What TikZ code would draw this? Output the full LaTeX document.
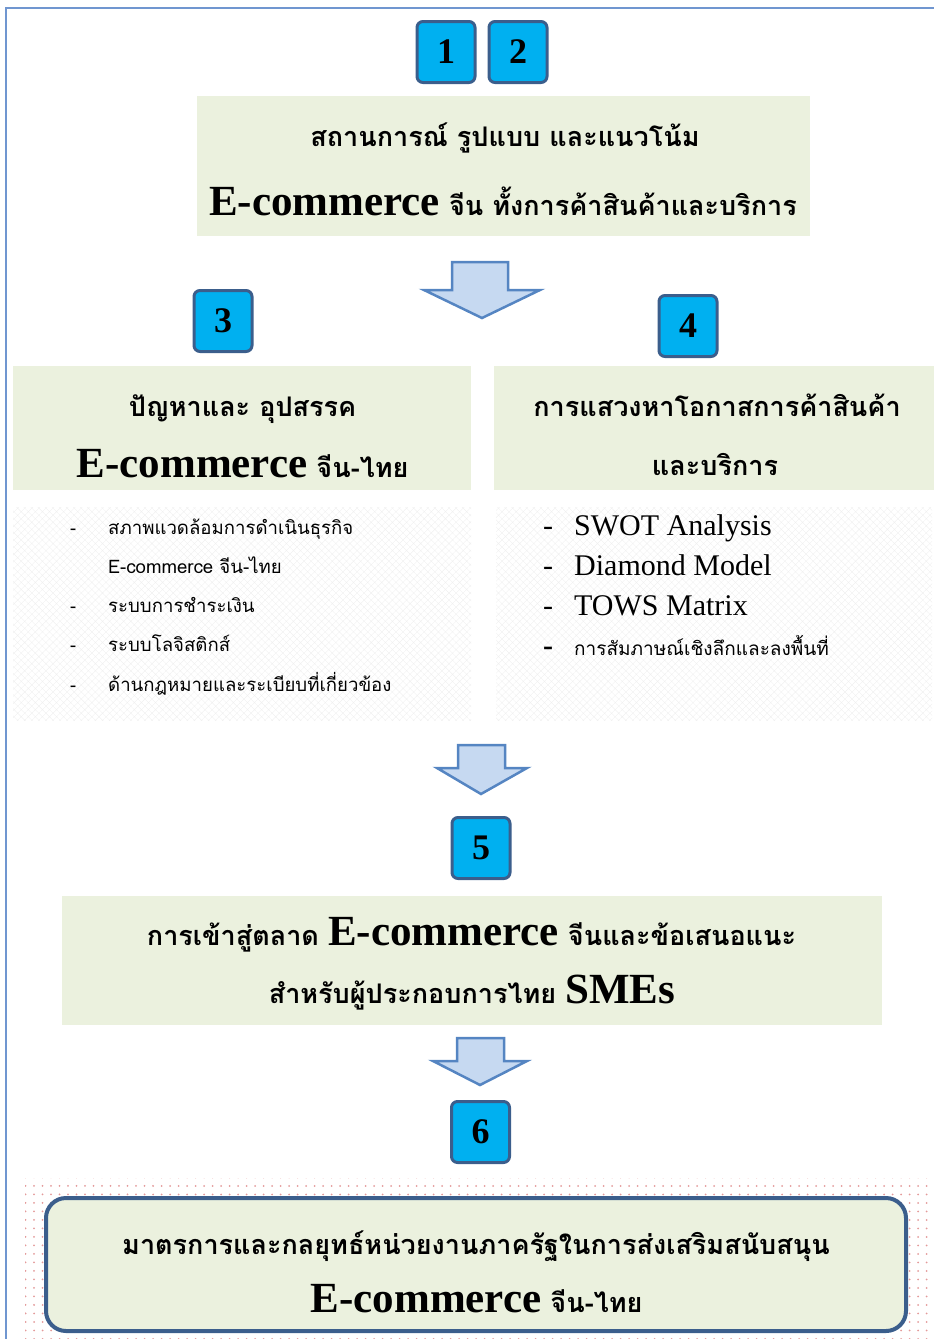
\documentclass[tikz,border=0pt]{standalone}
\usepackage{fontspec}
\usetikzlibrary{patterns.meta}
\newfontfamily\thb[Script=Thai]{Loma}
\newfontfamily\tms{Liberation Serif}
\definecolor{framecol}{HTML}{7096D0}
\definecolor{headfill}{HTML}{EBF1DE}
\definecolor{numfill}{HTML}{00B0F0}
\definecolor{numline}{HTML}{3B5E8C}
\definecolor{arrfill}{HTML}{C6D9F1}
\definecolor{arrline}{HTML}{5585C2}
\definecolor{dotcol}{HTML}{E39A9A}
\tikzset{
  numbox/.style={draw=numline, line width=3pt, fill=numfill, rounded corners=6pt,
    minimum width=58pt, minimum height=61pt, inner sep=0pt,
    font=\tms\bfseries\fontsize{36}{36}\selectfont},
  headbox/.style={fill=headfill, inner sep=0pt},
  listbox/.style={fill=gray!4, pattern={Hatch[angle=45,distance=5pt,line width=0.4pt]},
    pattern color=gray!12, inner sep=0pt},
  headtext/.style={anchor=base, inner sep=0pt, font=\thb\bfseries\fontsize{27}{30}\selectfont},
  ltext/.style={anchor=base west, inner sep=0pt, font=\thb\fontsize{18.6}{20}\selectfont},
  rtext/.style={anchor=base west, inner sep=0pt, font=\tms\fontsize{30}{30}\selectfont},
  rthai/.style={anchor=base west, inner sep=0pt, font=\thb\fontsize{19}{20}\selectfont},
  dashmark/.style={anchor=base, inner sep=0pt},
  blockarrow/.style={draw=arrline, line width=2.5pt, fill=arrfill, line join=miter}
}
\newcommand\ecom[1]{{\tms\fontsize{43}{43}\selectfont #1}}
\begin{document}
\begin{tikzpicture}[x=1pt,y=-1pt]
\useasboundingbox (0,0) rectangle (934,1339);
% page frame
\draw[framecol, line width=2pt] (6,1339) -- (6,8) -- (934,8);

% step numbers 1 and 2
\node[numbox] (n1) at (446,52) {1};
\node[numbox] (n2) at (518,52) {2};

% situation box
\node[headbox, minimum width=613pt, minimum height=140pt] (h1) at (503.5,166) {};
\node[headtext] (h1a) at (505,146) {สถานการณ์ รูปแบบ และแนวโน้ม};
\node[headtext] (h1b) at (503,215) {\ecom{E-commerce} จีน ทั้งการค้าสินค้าและบริการ};

% arrow below the situation box
\draw[blockarrow] (452,262) -- (508,262) -- (508,290) -- (540,290) -- (482,318) -- (424,290) -- (452,290) -- cycle;

% step numbers 3 and 4
\node[numbox] (n3) at (223,321) {3};
\node[numbox] (n4) at (688,326) {4};

% problems box
\node[headbox, minimum width=458pt, minimum height=124pt] (h3) at (242,428) {};
\node[headtext] (h3a) at (242.5,416) {ปัญหาและ อุปสรรค};
\node[headtext] (h3b) at (242.5,477) {\ecom{E-commerce} จีน-ไทย};

% opportunities box
\node[headbox, minimum width=440pt, minimum height=124pt] (h4) at (714,428) {};
\node[headtext] (h4a) at (717,416) {การแสวงหาโอกาสการค้าสินค้า};
\node[headtext] (h4b) at (715,475) {และบริการ};

% left list
\node[listbox, minimum width=458pt, minimum height=213pt] (l3) at (242,613.5) {};
\foreach \y in {534,612,651,691}{\node[dashmark, font=\thb\fontsize{18}{20}\selectfont] at (73,\y) {-};}
\node[ltext] (l3a) at (108,534) {สภาพแวดล้อมการดำเนินธุรกิจ};
\node[ltext] (l3b) at (108,573) {E-commerce จีน-ไทย};
\node[ltext] (l3c) at (108,612) {ระบบการชำระเงิน};
\node[ltext] (l3d) at (108,651) {ระบบโลจิสติกส์};
\node[ltext] (l3e) at (108,691) {ด้านกฎหมายและระเบียบที่เกี่ยวข้อง};

% right list
\node[listbox, minimum width=436pt, minimum height=213pt] (l4) at (714,613.5) {};
\foreach \y in {535,575,615}{\node[dashmark, font=\tms\fontsize{30}{30}\selectfont] at (548,\y) {-};}
\node[dashmark, font=\tms\bfseries\fontsize{30}{30}\selectfont] at (548,655) {-};
\node[rtext] (l4a) at (574,535) {SWOT Analysis};
\node[rtext] (l4b) at (574,575) {Diamond Model};
\node[rtext] (l4c) at (574,615) {TOWS Matrix};
\node[rthai] (l4d) at (574,655) {การสัมภาษณ์เชิงลึกและลงพื้นที่};

% arrow below the lists
\draw[blockarrow] (458,745) -- (505,745) -- (505,768) -- (527,768) -- (481,794) -- (437,768) -- (458,768) -- cycle;

% step number 5
\node[numbox] (n5) at (481,848) {5};

% market entry box
\node[headbox, minimum width=820pt, minimum height=129pt] (h5) at (472,960.5) {};
\node[headtext] (h5a) at (471.5,945) {การเข้าสู่ตลาด \ecom{E-commerce} จีนและข้อเสนอแนะ};
\node[headtext] (h5b) at (472,1003) {สำหรับผู้ประกอบการไทย \ecom{SMEs}};

% arrow below the market entry box
\draw[blockarrow] (457,1038) -- (504,1038) -- (504,1061) -- (527,1061) -- (480,1085) -- (433,1061) -- (457,1061) -- cycle;

% step number 6
\node[numbox] (n6) at (480.5,1132) {6};

% government measures box on a dotted ground
\fill[pattern={Dots[radius=1pt,distance=8.5pt]}, pattern color=dotcol] (25,1178) rectangle (931,1339);
\node[draw=numline, line width=4pt, fill=headfill, rounded corners=20pt,
  minimum width=860pt, minimum height=133pt, inner sep=0pt] (h6) at (476,1264.5) {};
\node[headtext] (h6a) at (476,1254) {มาตรการและกลยุทธ์หน่วยงานภาครัฐในการส่งเสริมสนับสนุน};
\node[headtext] (h6b) at (476.5,1312) {\ecom{E-commerce} จีน-ไทย};
\end{tikzpicture}
\end{document}
